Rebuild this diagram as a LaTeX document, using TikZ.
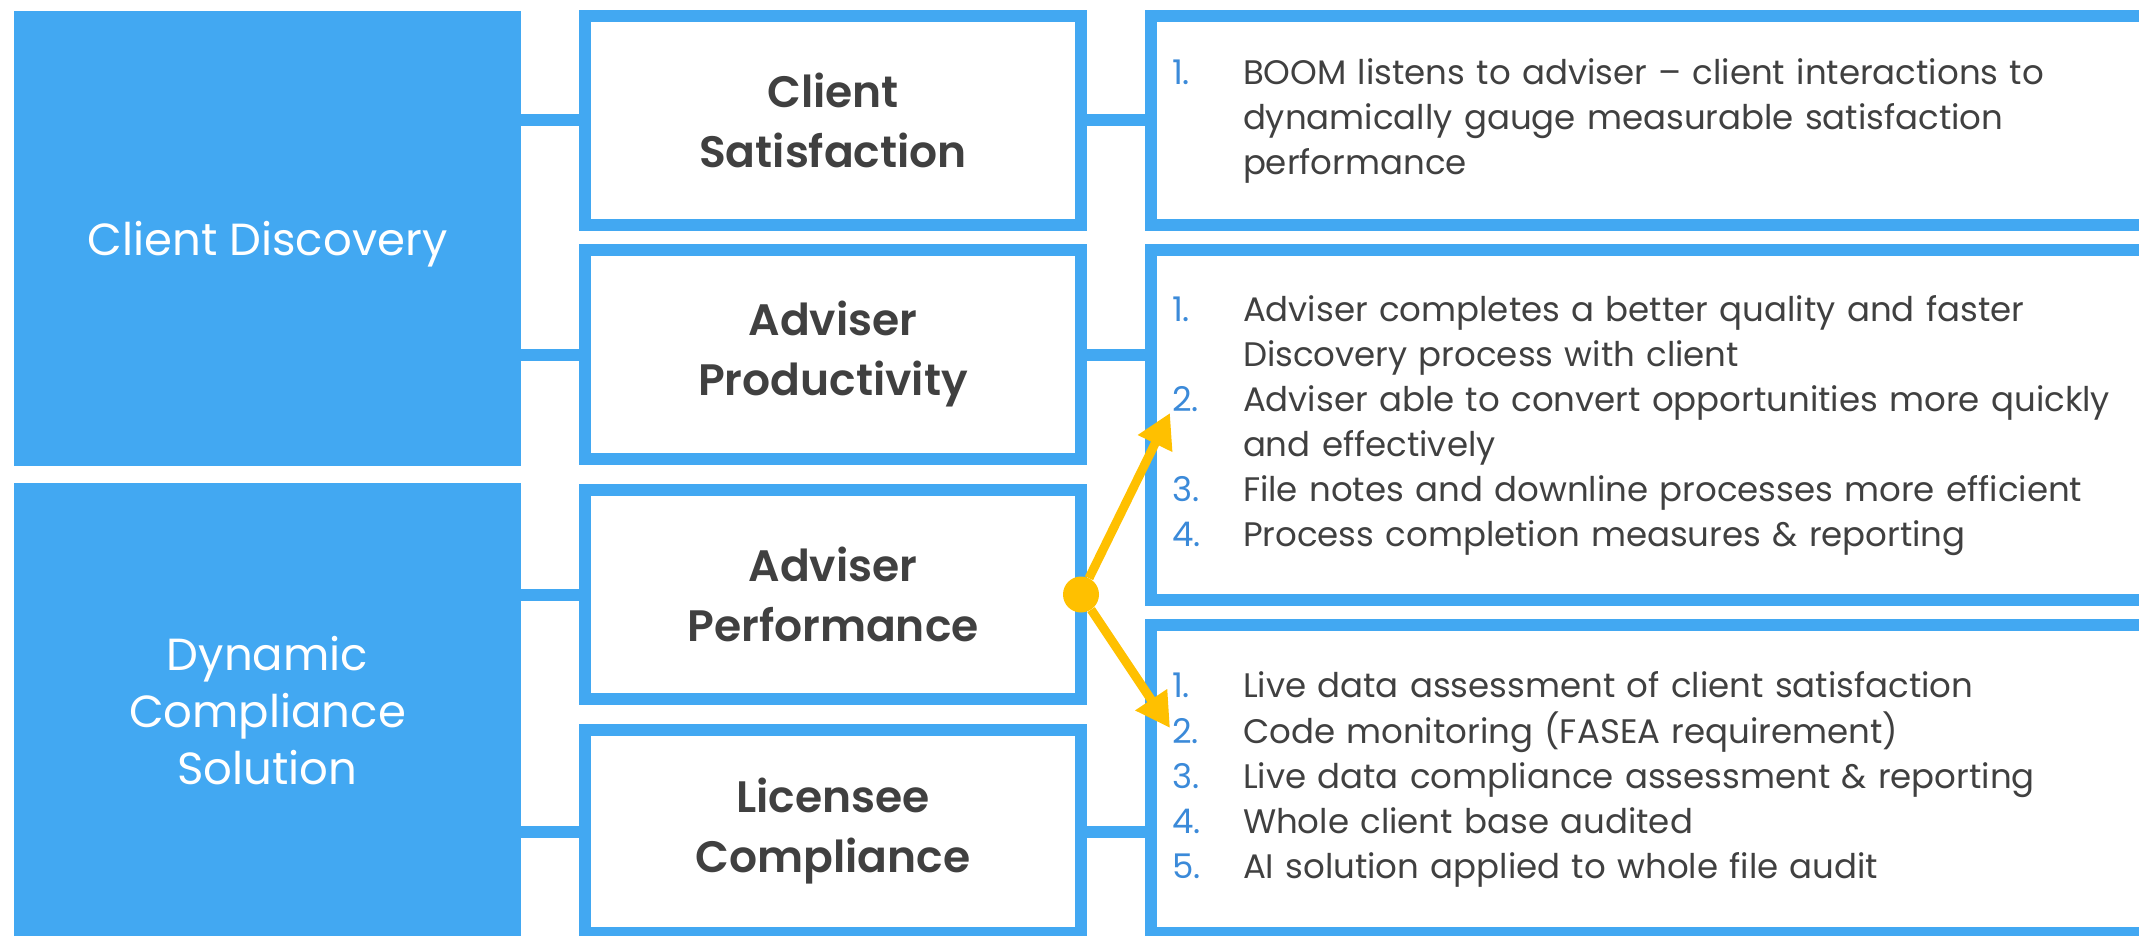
\documentclass[tikz,border=0pt]{standalone}
\usepackage{fontspec}
\setmainfont{Poppins}
\newfontfamily\semifont{Poppins SemiBold}
\usetikzlibrary{positioning, arrows.meta}
\definecolor{boxblue}{HTML}{42A8F2}
\definecolor{numblue}{HTML}{3B8AD9}
\definecolor{inkgray}{HTML}{404040}
\definecolor{pointgold}{HTML}{FFC000}
\newcommand{\itemno}[1]{\textcolor{numblue}{#1}}
\tikzstyle{topic} = [rectangle, fill=boxblue, text=white, minimum width=507pt, minimum height=455pt, inner sep=0pt, outer sep=0pt, align=center, font=\fontsize{45}{57}\selectfont]
\tikzstyle{area} = [rectangle, draw=boxblue, line width=12pt, fill=white, minimum width=496pt, minimum height=209pt, inner sep=0pt, outer sep=0pt, align=center, text=inkgray, font=\semifont\fontsize{44}{60}\selectfont]
\tikzstyle{detail} = [rectangle, draw=boxblue, line width=12pt, fill=white, minimum width=1009pt, inner xsep=21pt, inner ysep=0pt, outer sep=0pt, text width=967pt, align=left, text=inkgray, font=\fontsize{34}{45}\selectfont]
\tikzstyle{link} = [draw=boxblue, line width=12pt]
\tikzstyle{pointer} = [draw=pointgold, line width=9pt, -{Triangle[length=34pt, width=36pt]}]
\tikzstyle{hub} = [circle, fill=pointgold, minimum size=36pt, inner sep=0pt]

\begin{document}
\begin{tikzpicture}[x=1pt, y=-1pt]
\useasboundingbox (0,0) rectangle (2139,936);

%Topics
\node (cd) [topic, text depth=0pt] at (267.5,238.5) {Client Discovery};
\node (dcs) [topic, below=17pt of cd] {Dynamic\\Compliance\\Solution};

%Areas
\node (cs) [area] at (833,120.5) {Client\\Satisfaction};
\node (ap) [area, below=25pt of cs] {Adviser\\Productivity};
\node (pf) [area, below=31pt of ap] {Adviser\\Performance};
\node (lc) [area, below=31pt of pf, minimum height=203pt] {Licensee\\Compliance};

%Details
\node (r1) [detail, right=70pt of cs, minimum height=209pt] {%
\begin{tabular}{@{}p{71pt}@{}l@{}}
\itemno{1.} & BOOM listens to adviser – client interactions to\\
 & dynamically gauge measurable satisfaction\\
 & performance
\end{tabular}};
\node (r2) [detail, below=25pt of r1, minimum height=350pt] {%
\begin{tabular}{@{}p{71pt}@{}l@{}}
\itemno{1.} & Adviser completes a better quality and faster\\
 & Discovery process with client\\
\itemno{2.} & Adviser able to convert opportunities more quickly\\
 & and effectively\\
\itemno{3.} & File notes and downline processes more efficient\\
\itemno{4.} & Process completion measures \& reporting
\end{tabular}};
\node (r3) [detail, below=25pt of r2, minimum height=308pt] {%
\begin{tabular}{@{}p{71pt}@{}l@{}}
\itemno{1.} & Live data assessment of client satisfaction\\
\itemno{2.} & Code monitoring (FASEA requirement)\\
\itemno{3.} & Live data compliance assessment \& reporting\\
\itemno{4.} & Whole client base audited\\
\itemno{5.} & AI solution applied to whole file audit
\end{tabular}};

%links
\draw [link] (cd.east |- cs) -- (cs.west);
\draw [link] (cd.east |- ap) -- (ap.west);
\draw [link] (dcs.east |- pf) -- (pf.west);
\draw [link] (dcs.east |- lc) -- (lc.west);
\draw [link] (cs.east) -- (r1.west);
\draw [link] (ap.east) -- (ap.east -| r2.west);
\draw [link] (lc.east) -- (lc.east -| r3.west);

%pointers
\node (hub) [hub] at (pf.east) {};
\coordinate (up2) at (1170,413);
\coordinate (dn2) at (1170,728);
\draw [pointer] (hub) -- (up2);
\draw [pointer] (hub) -- (dn2);

\end{tikzpicture}
\end{document}
